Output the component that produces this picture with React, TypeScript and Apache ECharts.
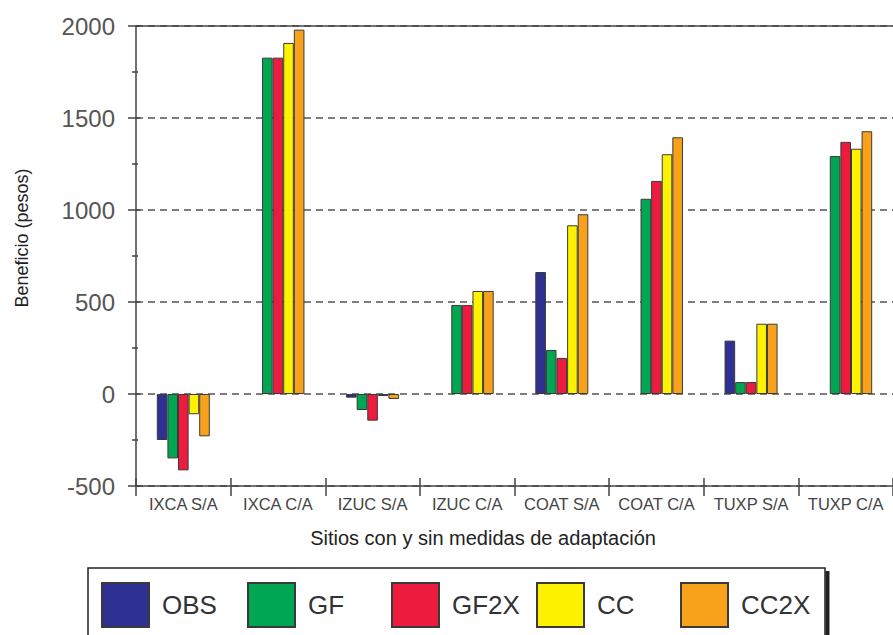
import React, { useEffect, useRef } from "react";
import * as echarts from "echarts";

const categories = ["IXCA S/A", "IXCA C/A", "IZUC S/A", "IZUC C/A", "COAT S/A", "COAT C/A", "TUXP S/A", "TUXP C/A"];
const seriesNames = ["OBS", "GF", "GF2X", "CC", "CC2X"];
const obs = [-250, null, -20, null, 663, null, 290, null];
const gf = [-350, 1828, -87, 484, 239, 1061, 65, 1293];
const gf2x = [-415, 1828, -145, 484, 196, 1158, 65, 1370];
const cc = [-110, 1908, -11, 560, 917, 1303, 382, 1333];
const cc2x = [-230, 1980, -27, 560, 977, 1395, 382, 1428];
const yTicks = { min: -500, max: 2000, interval: 500 };
const colors = ["#2e3192", "#00a651", "#ed1b3e", "#fff200", "#f8a21c"];
const legendLefts = [101, 247, 391, 536, 680];

const FONT = "'Liberation Sans', Arial, sans-serif";

export default function App() {
  const ref = useRef<HTMLDivElement>(null);
  useEffect(() => {
    const chart = echarts.init(ref.current!, null, { renderer: "svg" });
    const values = [obs, gf, gf2x, cc, cc2x];
    const series: any[] = seriesNames.map((name, i) => ({
      name,
      type: "bar",
      data: values[i],
      barWidth: 10.6,
      barGap: "0%",
      itemStyle: { color: colors[i], borderColor: "#3a3a3a", borderWidth: 1 },
      ...(i === 0
        ? {
            markLine: {
              silent: true,
              symbol: ["none", "none"],
              label: { show: false },
              lineStyle: { color: "#444", type: "solid", width: 1.5 },
              data: [{ yAxis: yTicks.max }],
            },
          }
        : {}),
    }));
    chart.setOption({
      animation: false,
      textStyle: { fontFamily: FONT },
      grid: { left: 136, top: 26, width: 762, height: 460, containLabel: false },
      xAxis: [
        {
          type: "category",
          data: categories,
          axisLine: { onZero: false, lineStyle: { color: "#444", width: 1.5 } },
          axisTick: { show: true, length: 10, interval: 0, lineStyle: { color: "#444", width: 1.5 } },
          axisLabel: { interval: 0, fontSize: 16.5, color: "#444", margin: 9, fontFamily: FONT },
          splitLine: { show: false },
        },
        {
          type: "category",
          data: categories,
          position: "bottom",
          axisLine: { show: false, onZero: false },
          axisTick: { show: true, inside: true, length: 8, interval: 0, lineStyle: { color: "#444", width: 1.5 } },
          axisLabel: { show: false },
          splitLine: { show: false },
        },
      ],
      yAxis: [
        {
          type: "value",
          min: yTicks.min,
          max: yTicks.max,
          interval: yTicks.interval,
          axisLine: { show: true, lineStyle: { color: "#444", width: 1.5 } },
          axisTick: { show: true, length: 8, lineStyle: { color: "#444", width: 1.5 } },
          minorTick: { show: true, splitNumber: 2, length: 4, lineStyle: { color: "#444", width: 1.5 } },
          axisLabel: {
            fontSize: 24,
            color: "#555",
            margin: 21,
            fontFamily: FONT,
            formatter: (v: number) => String(v),
          },
          splitLine: { show: true, lineStyle: { color: "#555", width: 1.5, type: [7, 5] } },
        },
        {
          type: "value",
          min: yTicks.min,
          max: yTicks.max,
          interval: yTicks.interval,
          position: "left",
          axisLine: { show: false },
          axisTick: { show: true, inside: true, length: 4, lineStyle: { color: "#444", width: 1.5 } },
          minorTick: { show: true, splitNumber: 2, length: 2, lineStyle: { color: "#444", width: 1.5 } },
          axisLabel: { show: false },
          splitLine: { show: false },
        },
      ],
      legend: seriesNames.map((name, i) => ({
        data: [name],
        left: legendLefts[i],
        top: 582,
        padding: 0,
        itemWidth: 47,
        itemHeight: 44,
        icon: "rect",
        selectedMode: false,
        textStyle: { fontSize: 26, color: "#333", fontFamily: FONT, padding: [0, 0, 0, 8] },
      })),
      graphic: [
        {
          type: "rect",
          z: -1,
          shape: { x: 88, y: 568, width: 737, height: 100 },
          style: { fill: "none", stroke: "#222", lineWidth: 1.5 },
        },
        {
          type: "rect",
          z: -1,
          shape: { x: 825.5, y: 571, width: 4, height: 80 },
          style: { fill: "#222" },
        },
        {
          type: "text",
          x: 22,
          y: 238,
          rotation: Math.PI / 2,
          style: {
            text: "Beneficio (pesos)",
            fontSize: 18,
            fontFamily: FONT,
            fill: "#222",
            textAlign: "center",
            textVerticalAlign: "middle",
          },
        },
        {
          type: "text",
          x: 483,
          y: 538,
          style: {
            text: "Sitios con y sin medidas de adaptación",
            fontSize: 20,
            fontFamily: FONT,
            fill: "#222",
            textAlign: "center",
            textVerticalAlign: "middle",
          },
        },
      ],
      series,
    });
    return () => chart.dispose();
  }, []);
  return (
    <div
      ref={ref}
      style={{ position: "fixed", left: 0, top: 0, width: 893, height: 635, background: "#fff" }}
    />
  );
}
